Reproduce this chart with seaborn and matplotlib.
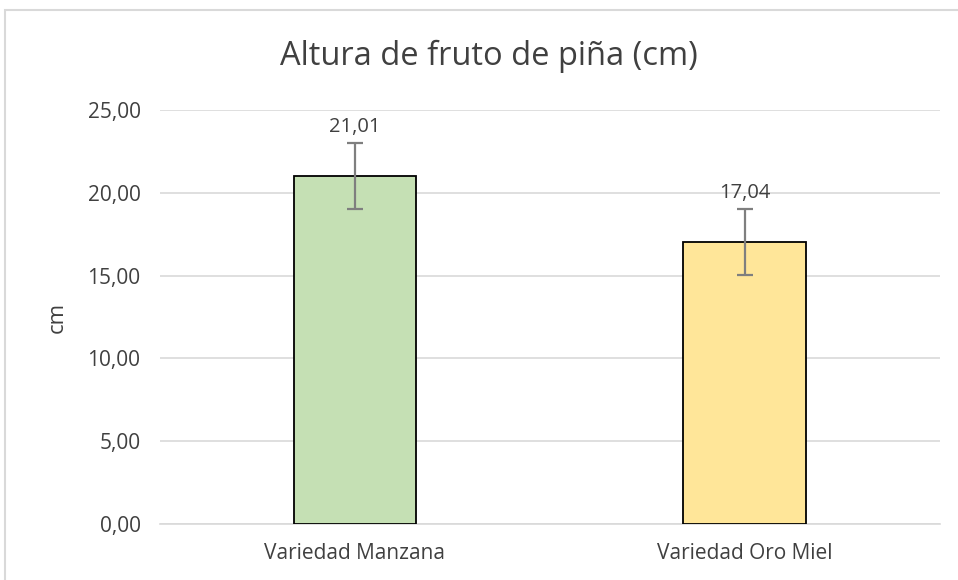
import matplotlib
matplotlib.use("Agg")
import matplotlib.pyplot as plt
import seaborn as sns
import pandas as pd
from matplotlib.patches import Rectangle

categories = ["Variedad Manzana", "Variedad Oro Miel"]
heights = [21.01, 17.04]
errors = [2.0, 2.0]
bar_colors = ["#c5e0b4", "#ffe699"]
yticks = [0, 5, 10, 15, 20, 25]

sns.set_theme(style="white")
plt.rcParams["font.family"] = ["Open Sans", "DejaVu Sans"]

df = pd.DataFrame({"variedad": categories, "altura": heights})

fig = plt.figure(figsize=(9.58, 5.80), dpi=100)
ax = fig.add_axes([0.167, 0.0966, 0.814, 0.7138])

sns.barplot(data=df, x="variedad", y="altura", hue="variedad",
            palette=bar_colors, saturation=1, width=0.315, edgecolor="black",
            linewidth=1.3, legend=False, ax=ax, zorder=3)
ax.errorbar(range(len(categories)), heights, yerr=errors, fmt="none",
            ecolor="#7f7f7f", elinewidth=1.6, capsize=6, capthick=1.6, zorder=4)

for i, v in enumerate(heights):
    ax.text(i, v + errors[i] + 0.35, f"{v:.2f}".replace(".", ","),
            ha="center", va="bottom", fontsize=14.5, color="#404040")

ax.set_ylim(0, 25)
ax.set_xlim(-0.5, 1.5)
ax.set_yticks(yticks)
ax.set_yticklabels([f"{t:.2f}".replace(".", ",") for t in yticks])
ax.yaxis.grid(True, color="#d9d9d9", linewidth=1.2, zorder=0)
ax.set_axisbelow(True)
for s in ["top", "right", "left"]:
    ax.spines[s].set_visible(False)
ax.spines["bottom"].set_color("#d9d9d9")
ax.spines["bottom"].set_linewidth(1.2)
ax.tick_params(axis="both", labelsize=15, labelcolor="#404040", length=0)
ax.tick_params(axis="y", pad=14)
ax.tick_params(axis="x", pad=14)
ax.set_xlabel("")
ax.set_ylabel("cm", fontsize=16, color="#404040", labelpad=14)
fig.text(0.51, 0.902, "Altura de fruto de piña (cm)", ha="center", va="center",
         fontsize=23.5, color="#404040")

fig.patches.append(Rectangle((5 / 958, -0.05), 1.1, 1.05 - 10 / 580,
                             transform=fig.transFigure, fill=False,
                             edgecolor="#d9d9d9", linewidth=1.5))

fig.savefig("out.png", dpi=100)
